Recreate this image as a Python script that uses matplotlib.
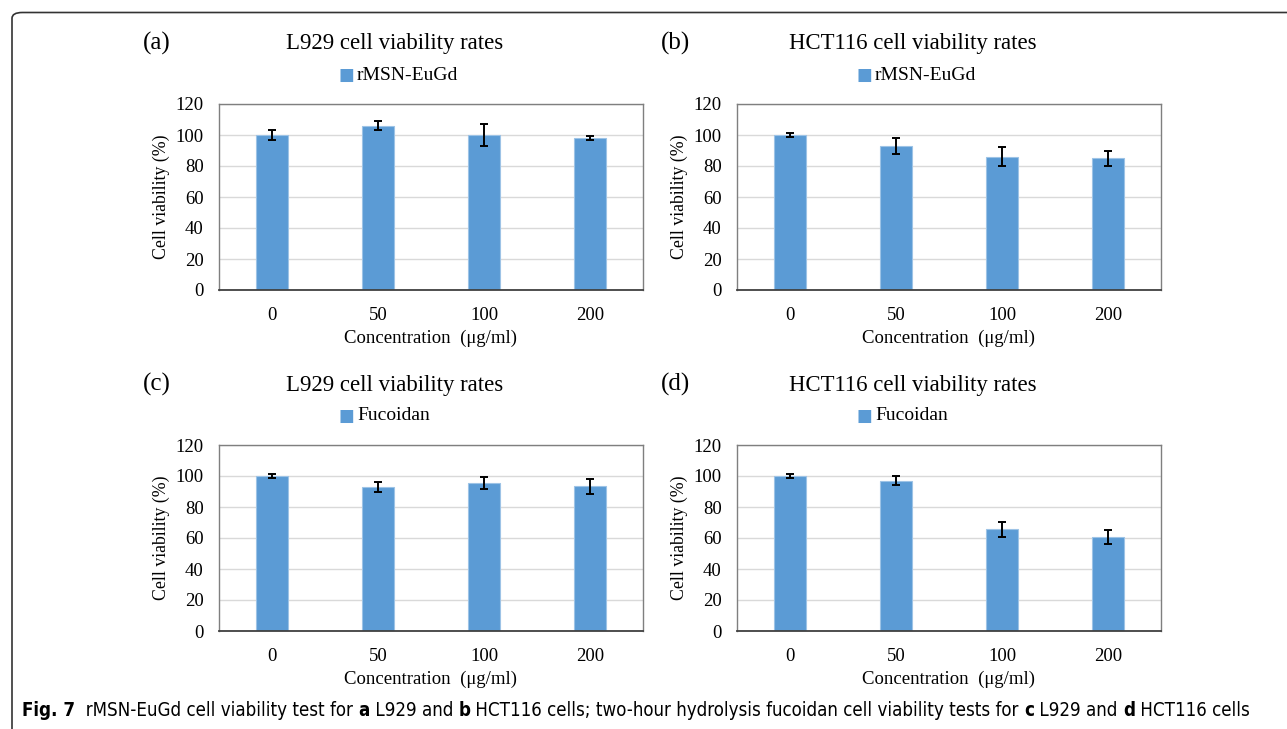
import numpy as np
import matplotlib.pyplot as plt
from matplotlib.patches import FancyBboxPatch

# concentrations (ug/ml) shared by all four panels
conc = ['0', '50', '100', '200']

# (a) L929, rMSN-EuGd
a_val = [100, 106, 100, 98]
a_err = [3, 3, 7, 1.5]
# (b) HCT116, rMSN-EuGd
b_val = [100, 93, 86, 85]
b_err = [1.5, 5, 6, 5]
# (c) L929, fucoidan
c_val = [100, 92.7, 95.2, 93.3]
c_err = [1.3, 3.2, 3.9, 4.6]
# (d) HCT116, fucoidan
d_val = [100, 97, 65.5, 60.6]
d_err = [1.3, 2.9, 4.8, 4.7]

panels = [
    ('(a)', 'L929 cell viability rates', 'rMSN-EuGd', a_val, a_err),
    ('(b)', 'HCT116 cell viability rates', 'rMSN-EuGd', b_val, b_err),
    ('(c)', 'L929 cell viability rates', 'Fucoidan', c_val, c_err),
    ('(d)', 'HCT116 cell viability rates', 'Fucoidan', d_val, d_err),
]

W, H = 1287, 729
plt.rcParams['font.family'] = ['Liberation Serif', 'DejaVu Serif']
fig = plt.figure(figsize=(W / 100, H / 100), dpi=100)

bar_col = '#5B9BD5'
# axes boxes in pixels: left, top
boxes = [(219, 104), (737, 104), (219, 445), (737, 445)]
aw, ah = 424, 186


def fx(px):
    return px / W


def fy(py):
    return 1 - py / H


for (lx, ty), (tag, title, leg, vals, errs) in zip(boxes, panels):
    ax = fig.add_axes([fx(lx), fy(ty + ah), aw / W, ah / H])
    x = np.arange(len(conc))
    ax.bar(x, vals, width=0.31, color=bar_col, edgecolor='#9DC3E6', linewidth=0.8, zorder=2)
    ax.errorbar(x, vals, yerr=errs, fmt='none', ecolor='black', elinewidth=1.4,
                capsize=2.8, capthick=1.4, zorder=3)
    ax.set_xlim(-0.5, 3.5)
    ax.set_ylim(0, 120)
    ax.set_yticks(range(0, 121, 20))
    ax.set_xticks(x)
    ax.set_xticklabels(conc)
    ax.tick_params(length=0, labelsize=13.5, pad=11, colors='black')
    ax.tick_params(axis='x', pad=12)
    ax.yaxis.grid(True, color='#D9D9D9', lw=1, zorder=0)
    ax.set_axisbelow(True)
    for s in ['top', 'right', 'left']:
        ax.spines[s].set_color('#7F7F7F')
        ax.spines[s].set_linewidth(1)
    ax.spines['bottom'].set_color('#404040')
    ax.spines['bottom'].set_linewidth(1.3)
    ax.set_ylabel('Cell viability (%)', fontsize=12.8, labelpad=4)
    ax.set_xlabel('Concentration  (μg/ml)', fontsize=13.5, labelpad=4)

    # panel letter, title and legend entry above each plot
    fig.text(fx(lx - 62), fy(ty - 61), tag, fontsize=18, ha='center', va='center')
    fig.text(fx(lx + 176), fy(ty - 60), title, fontsize=16.4, ha='center', va='center')
    fig.text(fx(lx + 127), fy(ty - 29), '■', fontsize=12, color=bar_col,
             ha='center', va='center', family=['DejaVu Sans'])
    fig.text(fx(lx + 138), fy(ty - 29), leg, fontsize=14, ha='left', va='center')

# outer frame with rounded corner
frame = FancyBboxPatch((fx(12), fy(740)), 1.2, fy(12.5) - fy(740),
                       boxstyle='round,pad=0,rounding_size=0.008',
                       transform=fig.transFigure, fill=False,
                       edgecolor='#333333', lw=1.2, clip_on=False)
fig.patches.append(frame)

# caption, written piece by piece so the panel letters can be bold
cap_parts = [('Fig. 7', True), ('  rMSN-EuGd cell viability test for ', False), ('a', True),
             (' L929 and ', False), ('b', True),
             (' HCT116 cells; two-hour hydrolysis fucoidan cell viability tests for ', False),
             ('c', True), (' L929 and ', False), ('d', True), (' HCT116 cells', False)]
cap_font = ['DejaVu Sans']
r = fig.canvas.get_renderer()


def draw_caption(size):
    xpos = fx(22)
    items = []
    for txt, bold in cap_parts:
        t = fig.text(xpos, fy(710), txt, fontsize=size, fontweight='bold' if bold else 'normal',
                     family=cap_font, fontstretch='condensed', ha='left', va='center')
        bb = t.get_window_extent(renderer=r)
        xpos = fx(bb.x1)
        items.append(t)
    return items, bb.x1


items, end = draw_caption(12)
for t in items:
    t.remove()
size = 12 * (1250 - 22) / (end - 22)
draw_caption(size)

fig.savefig('out.png', dpi=100)
